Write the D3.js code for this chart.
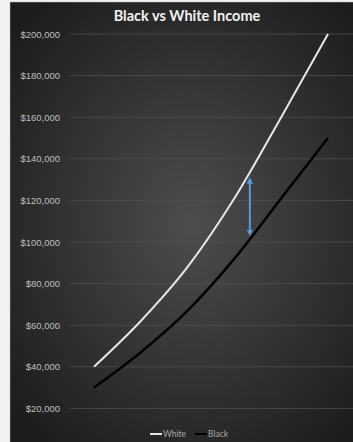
<!DOCTYPE html>
<html>
<head>
<meta charset="utf-8">
<script src="https://cdn.jsdelivr.net/npm/d3@7"></script>
<style>
  body { margin: 0; background: #f2f2f2; }
  svg { display: block; font-family: Lato, "Open Sans", sans-serif; }
</style>
</head>
<body>
<div id="chart"></div>
<script>
// data (x categories are unlabelled steps)
var steps = [0, 1, 2, 3, 4, 5];
var whiteIncome = [40000, 62000, 88000, 121000, 160000, 200000];
var blackIncome = [30000, 47000, 67000, 92000, 121000, 150000];
var yTicks = [20000, 40000, 60000, 80000, 100000, 120000, 140000, 160000, 180000, 200000];
// gap arrow: position between steps, top and bottom values
var gapArrow = {step: 3.33, top: 131000, bottom: 103000};

var width = 353, height = 442;

var svg = d3.select("#chart")
  .append("svg")
    .attr("width", width)
    .attr("height", height);

// radial gradient background like the excel theme
var defs = svg.append("defs");
var grad = defs.append("radialGradient")
    .attr("id", "bg")
    .attr("cx", "50%").attr("cy", "50%").attr("r", "65%");
grad.append("stop").attr("offset", "0%").attr("stop-color", "#4d4d4d");
grad.append("stop").attr("offset", "100%").attr("stop-color", "#1c1c1c");

svg.append("rect")
    .attr("x", 10).attr("y", 2)
    .attr("width", width + 10).attr("height", height)
    .attr("fill", "url(#bg)")
    .attr("stroke", "#bdbdbd")
    .attr("stroke-width", 0.5);

var x = d3.scaleLinear()
    .domain([0, 5])
    .range([94, 328]);

var y = d3.scaleLinear()
    .domain([0, 200000])
    .range([450, 34]);

// gridlines
svg.append("g")
  .selectAll("line")
  .data(yTicks)
  .enter()
  .append("line")
    .attr("x1", 70)
    .attr("x2", width)
    .attr("y1", function(d) { return y(d); })
    .attr("y2", function(d) { return y(d); })
    .attr("stroke", "#4f4f4f")
    .attr("stroke-width", 0.8);

// y axis labels
var yAxis = svg.append("g")
    .attr("transform", "translate(63,0)")
    .call(d3.axisLeft(y).tickValues(yTicks).tickSize(0).tickPadding(3)
      .tickFormat(function(d) { return "$" + d3.format(",")(d); }));
yAxis.select(".domain").remove();
yAxis.selectAll("text")
    .attr("fill", "#bfbfbf")
    .style("font-size", "9.5px");

var line = d3.line()
    .x(function(d, i) { return x(steps[i]); })
    .y(function(d) { return y(d); })
    .curve(d3.curveMonotoneX);

svg.append("path")
    .datum(whiteIncome)
    .attr("fill", "none")
    .attr("stroke", "#e6e6e6")
    .attr("stroke-width", 2)
    .attr("d", line);

svg.append("path")
    .datum(blackIncome)
    .attr("fill", "none")
    .attr("stroke", "#000000")
    .attr("stroke-width", 2.5)
    .attr("d", line);

// blue double arrow showing the gap
defs.append("marker")
    .attr("id", "head")
    .attr("viewBox", "0 0 10 10")
    .attr("refX", 5).attr("refY", 5)
    .attr("markerWidth", 3.2).attr("markerHeight", 3.2)
    .attr("orient", "auto-start-reverse")
  .append("path")
    .attr("d", "M0,0 L10,5 L0,10 z")
    .attr("fill", "#5b9bd5");

svg.append("line")
    .attr("x1", x(gapArrow.step)).attr("x2", x(gapArrow.step))
    .attr("y1", y(gapArrow.top) + 3).attr("y2", y(gapArrow.bottom) - 3)
    .attr("stroke", "#5b9bd5")
    .attr("stroke-width", 2)
    .attr("marker-start", "url(#head)")
    .attr("marker-end", "url(#head)");

// title
svg.append("text")
    .attr("x", 187)
    .attr("y", 21)
    .attr("text-anchor", "middle")
    .attr("fill", "#f2f2f2")
    .style("font-size", "14.5px")
    .style("font-weight", "bold")
    .text("Black vs White Income");

// legend
var legend = [{name: "White", color: "#e6e6e6"}, {name: "Black", color: "#000000"}];
var lg = svg.append("g").attr("transform", "translate(150,434)");
legend.forEach(function(d, i) {
  var g = lg.append("g").attr("transform", "translate(" + (i * 45) + ",0)");
  g.append("line").attr("x1", 0).attr("x2", 12).attr("y1", 0).attr("y2", 0)
    .attr("stroke", d.color).attr("stroke-width", 2);
  g.append("text").attr("x", 13).attr("y", 3)
    .attr("fill", "#a6a6a6").style("font-size", "8.5px").text(d.name);
});
</script>
</body>
</html>
